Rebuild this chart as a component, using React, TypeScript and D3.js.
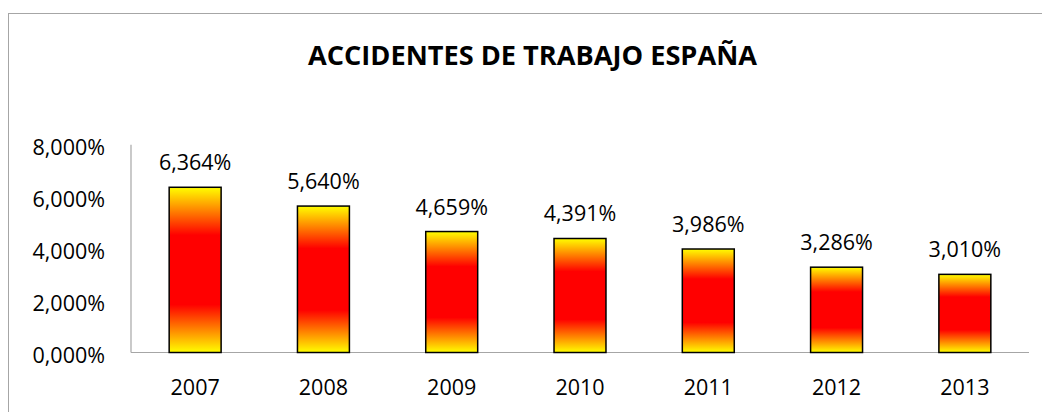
import React from "react";
import * as d3 from "d3";

const years = ["2007", "2008", "2009", "2010", "2011", "2012", "2013"];
const values = [6.364, 5.64, 4.659, 4.391, 3.986, 3.286, 3.01];
const yTicks = [0, 2, 4, 6, 8];
const title = "ACCIDENTES DE TRABAJO ESPAÑA";

const fmt = (v: number) => v.toFixed(3).replace(".", ",") + "%";

export default function App() {
  const W = 1042, H = 412;
  const left = 131, right = 1029, top = 144.8, bottom = 352.5;
  const x = d3.scaleBand().domain(years).range([left, right]).paddingInner(0.595).paddingOuter(0.2975);
  const y = d3.scaleLinear().domain([0, 8]).range([bottom, top]);
  const font = "'Open Sans', sans-serif";
  const fs = 21.5;
  return (
    <svg width={W} height={H} style={{ position: "absolute", left: 0, top: 0 }}>
      <defs>
        <linearGradient id="barGrad" x1="0" y1="0" x2="0" y2="1">
          <stop offset="0" stopColor="#FFFF00" />
          <stop offset="0.29" stopColor="#FF0000" />
          <stop offset="0.71" stopColor="#FF0000" />
          <stop offset="1" stopColor="#FFFF00" />
        </linearGradient>
      </defs>
      <rect x={0} y={0} width={W} height={H} fill="#fff" />
      <rect x={8.5} y={13.5} width={W + 20} height={H + 20} fill="none" stroke="#A6A6A6" strokeWidth={1} />
      <text x={532.5} y={64.5} textAnchor="middle" fontFamily={font} fontWeight={700} fontSize={26} fill="#000" textLength={449} lengthAdjust="spacingAndGlyphs">
        {title}
      </text>
      <line x1={left} x2={left} y1={top} y2={bottom} stroke="#A6A6A6" strokeWidth={1.2} />
      <line x1={left} x2={right} y1={bottom} y2={bottom} stroke="#A6A6A6" strokeWidth={1.2} />
      {yTicks.map((t) => (
        <text key={t} x={105} y={y(t) + 10} textAnchor="end" fontFamily={font} fontSize={fs} fill="#000">
          {fmt(t)}
        </text>
      ))}
      {years.map((yr, i) => {
        const bx = x(yr)!;
        const bw = x.bandwidth();
        const v = values[i];
        return (
          <g key={yr}>
            <rect x={bx} y={y(v)} width={bw} height={bottom - y(v)} fill="url(#barGrad)" stroke="#000" strokeWidth={1.5} />
            <text x={bx + bw / 2} y={y(v) - 17} textAnchor="middle" fontFamily={font} fontSize={fs} fill="#000">
              {fmt(v)}
            </text>
            <text x={bx + bw / 2} y={395} textAnchor="middle" fontFamily={font} fontSize={fs} fill="#000">
              {yr}
            </text>
          </g>
        );
      })}
    </svg>
  );
}
